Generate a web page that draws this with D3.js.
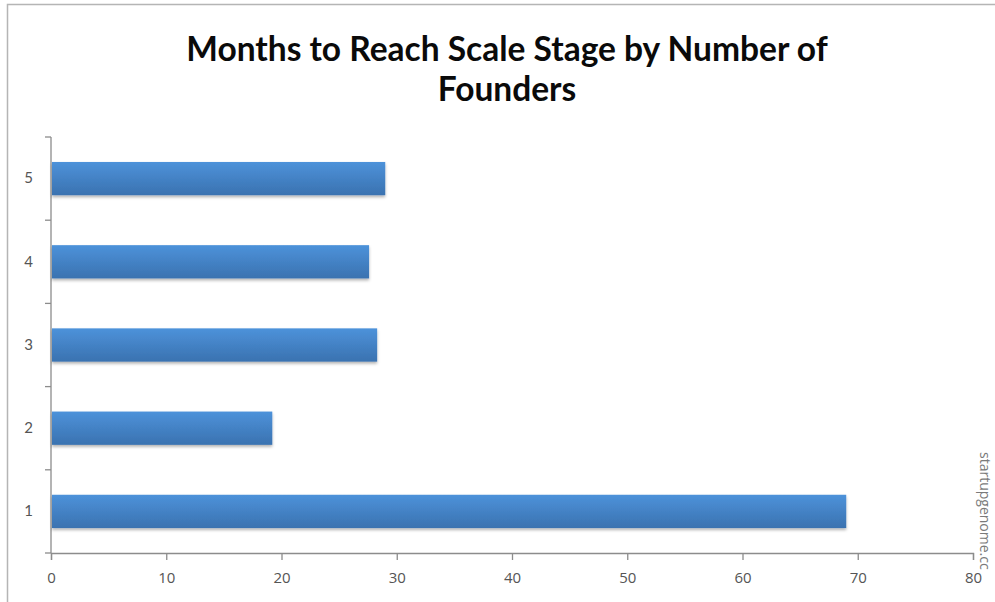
<!DOCTYPE html>
<html>
<head>
<meta charset="utf-8">
<script src="https://cdn.jsdelivr.net/npm/d3@7"></script>
<style>
  body { margin: 0; background: #fff; }
  svg { display: block; }
</style>
</head>
<body>
<svg id="vis-svg"></svg>
<script>
// chart data
const founders = ["1", "2", "3", "4", "5"];
const months = [69, 19.2, 28.3, 27.6, 29];
const xTicks = [0, 10, 20, 30, 40, 50, 60, 70, 80];
const titleLines = ["Months to Reach Scale Stage by Number of", "Founders"];
const sourceText = "startupgenome.cc";

const W = 995, H = 602;
const margin = {top: 137, right: 22, bottom: 49, left: 51},
      width = W - margin.left - margin.right,
      height = H - margin.top - margin.bottom;

const data = founders.map((f, i) => ({founders: f, months: months[i]}));

const svg = d3.select("#vis-svg")
    .attr("width", W)
    .attr("height", H);

// frame around the chart
svg.append("path")
    .attr("d", "M7.5," + H + "V4.5H" + W)
    .attr("fill", "none")
    .attr("stroke", "#b5b5b5")
    .attr("stroke-width", 1.5);

// gradient for bars
const defs = svg.append("defs");
const grad = defs.append("linearGradient")
    .attr("id", "barGrad")
    .attr("x1", 0).attr("y1", 0).attr("x2", 0).attr("y2", 1);
grad.append("stop").attr("offset", "0%").attr("stop-color", "#4d92da");
grad.append("stop").attr("offset", "100%").attr("stop-color", "#3a72b0");

const shadow = defs.append("filter")
    .attr("id", "shadow")
    .attr("x", "-5%").attr("y", "-20%").attr("width", "110%").attr("height", "160%");
shadow.append("feDropShadow")
    .attr("dx", 0).attr("dy", 2).attr("stdDeviation", 1.5)
    .attr("flood-color", "#000").attr("flood-opacity", 0.3);

// title
svg.append("text")
    .attr("x", 507)
    .attr("text-anchor", "middle")
    .style("font-family", "Lato, 'Open Sans', sans-serif")
    .style("font-weight", "bold")
    .style("font-size", "33.5px")
    .attr("fill", "#0a0a0a")
  .selectAll("tspan")
  .data(titleLines)
  .enter().append("tspan")
    .attr("x", 507)
    .attr("y", (d, i) => 61 + i * 40)
    .text(d => d);

const g = svg.append("g")
    .attr("transform", "translate(" + margin.left + "," + margin.top + ")");

// scales
const x = d3.scaleLinear().domain([0, 80]).range([0, width]);
const y = d3.scaleBand()
    .domain(founders.slice().reverse())
    .range([0, height])
    .paddingInner(0.6)
    .paddingOuter(0.3);

// x axis
const xAxis = g.append("g")
    .attr("transform", "translate(0," + height + ")")
    .call(d3.axisBottom(x).tickValues(xTicks).tickSize(7).tickPadding(12));
xAxis.select(".domain").attr("stroke", "#8c8c8c").attr("stroke-width", 1.3);
xAxis.selectAll(".tick line").attr("stroke", "#8c8c8c").attr("stroke-width", 1.3);
xAxis.selectAll("text")
    .attr("fill", "#555")
    .style("font-family", "'Liberation Sans Narrow', 'Open Sans', sans-serif")
    .style("font-size", "15px");

// y axis (labels only, ticks sit between categories)
const yAxis = g.append("g")
    .call(d3.axisLeft(y).tickSize(0).tickPadding(18));
yAxis.select(".domain").attr("stroke", "#8c8c8c").attr("stroke-width", 1.3)
    .attr("d", "M0,0V" + height);
yAxis.selectAll("text")
    .attr("fill", "#555")
    .style("font-family", "Lato, 'Open Sans', sans-serif")
    .style("font-size", "15px");

// category boundary ticks
g.append("g").selectAll("line")
    .data(d3.range(founders.length + 1))
  .enter().append("line")
    .attr("x1", -6)
    .attr("x2", 0)
    .attr("y1", i => i * y.step())
    .attr("y2", i => i * y.step())
    .attr("stroke", "#8c8c8c")
    .attr("stroke-width", 1.3);

// bars
g.selectAll(".bar")
    .data(data)
  .enter().append("rect")
    .attr("class", "bar")
    .attr("x", 1)
    .attr("y", d => y(d.founders))
    .attr("width", d => x(d.months) - 1)
    .attr("height", y.bandwidth())
    .attr("fill", "url(#barGrad)")
    .attr("filter", "url(#shadow)");

// source watermark
svg.append("text")
    .attr("transform", "translate(980,452) rotate(90)")
    .attr("fill", "#7a7a7a")
    .style("font-family", "'Open Sans', sans-serif")
    .style("font-size", "14px")
    .text(sourceText);
</script>
</body>
</html>
